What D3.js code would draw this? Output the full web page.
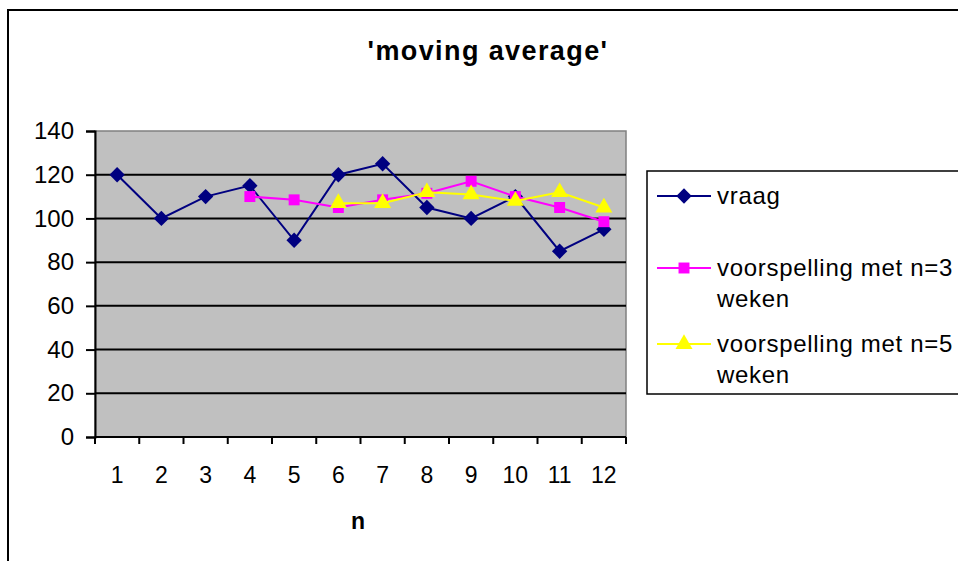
<!DOCTYPE html>
<html>
<head>
<meta charset="utf-8">
<script src="https://cdn.jsdelivr.net/npm/d3@7/dist/d3.min.js"></script>
<style>
  body { margin: 0; background: #fff; }
  svg { display: block; font-family: "Liberation Sans", Arial, sans-serif; }
</style>
</head>
<body>
<svg id="chart" width="958" height="561"></svg>
<script>
// categories (weeks)
const weeks = ["1", "2", "3", "4", "5", "6", "7", "8", "9", "10", "11", "12"];
// demand
const vraag = [120, 100, 110, 115, 90, 120, 125, 105, 100, 110, 85, 95];
// forecasts (null = no value yet)
const forecast3 = [null, null, null, 110, 108.5, 105, 108.5, 111.5, 117, 110, 105, 98.5];
const forecast5 = [null, null, null, null, null, 107, 107, 112, 111, 108, 112, 105];
const yTicks = [0, 20, 40, 60, 80, 100, 120, 140];
const seriesNames = ["vraag", "voorspelling met n=3 weken", "voorspelling met n=5 weken"];

const svg = d3.select("#chart");

// outer chart border (cut off at right and bottom)
svg.append("rect")
    .attr("x", 8).attr("y", 10)
    .attr("width", 1000).attr("height", 600)
    .attr("fill", "#fff")
    .attr("stroke", "#000")
    .attr("stroke-width", 2);

// title
svg.append("text")
    .attr("x", 488).attr("y", 60)
    .attr("text-anchor", "middle")
    .attr("font-size", 27)
    .attr("font-weight", "bold")
    .attr("letter-spacing", 1.4)
    .text("'moving average'");

// plot area
const plot = { left: 95, top: 131, right: 626, bottom: 437 };

const x = d3.scaleBand()
    .domain(weeks)
    .range([plot.left, plot.right]);

const y = d3.scaleLinear()
    .domain([0, 140])
    .range([plot.bottom, plot.top]);

svg.append("rect")
    .attr("x", plot.left).attr("y", plot.top)
    .attr("width", plot.right - plot.left)
    .attr("height", plot.bottom - plot.top)
    .attr("fill", "#c0c0c0")
    .attr("stroke", "#808080")
    .attr("stroke-width", 1.5);

// gridlines
svg.append("g")
    .selectAll("line")
    .data(yTicks.filter(d => d > 0 && d < 140))
    .enter().append("line")
    .attr("x1", plot.left).attr("x2", plot.right)
    .attr("y1", d => y(d)).attr("y2", d => y(d))
    .attr("stroke", "#000")
    .attr("stroke-width", 2);

// y axis
const yAxis = svg.append("g")
    .attr("transform", "translate(" + plot.left + ",0)")
    .call(d3.axisLeft(y).tickValues(yTicks).tickSize(9).tickPadding(12));
yAxis.selectAll("text").attr("font-size", 24).attr("fill", "#000")
    .attr("font-family", "Liberation Sans, Arial, sans-serif");
yAxis.selectAll("line, path").attr("stroke", "#000").attr("stroke-width", 2);

// x axis: ticks between categories
const tickPos = weeks.map(w => x(w)).concat([plot.right]);
const xAxis = svg.append("g");
xAxis.append("line")
    .attr("x1", plot.left).attr("x2", plot.right)
    .attr("y1", plot.bottom).attr("y2", plot.bottom)
    .attr("stroke", "#000").attr("stroke-width", 2);
xAxis.selectAll(".tick")
    .data(tickPos)
    .enter().append("line")
    .attr("x1", d => d).attr("x2", d => d)
    .attr("y1", plot.bottom).attr("y2", plot.bottom + 7)
    .attr("stroke", "#000").attr("stroke-width", 2);
xAxis.selectAll("text")
    .data(weeks)
    .enter().append("text")
    .attr("x", d => x(d) + x.bandwidth() / 2)
    .attr("y", 483)
    .attr("text-anchor", "middle")
    .attr("font-size", 23)
    .text(d => d);

// x axis title
svg.append("text")
    .attr("x", 358).attr("y", 529)
    .attr("text-anchor", "middle")
    .attr("font-size", 23)
    .attr("font-weight", "bold")
    .text("n");

const cx = i => x(weeks[i]) + x.bandwidth() / 2;

const line = d3.line()
    .defined(d => d != null)
    .x((d, i) => cx(i))
    .y(d => y(d));

const series = [
    { name: seriesNames[0], values: vraag, color: "#000080", shape: d3.symbolDiamond2, size: 150 },
    { name: seriesNames[1], values: forecast3, color: "#ff00ff", shape: d3.symbolSquare, size: 120 },
    { name: seriesNames[2], values: forecast5, color: "#ffff00", shape: d3.symbolTriangle, size: 125 }
];

series.forEach((s) => {
    const g = svg.append("g");
    g.append("path")
        .attr("d", line(s.values))
        .attr("fill", "none")
        .attr("stroke", s.color)
        .attr("stroke-width", 2);
    g.selectAll("path.m")
        .data(s.values.map((v, i) => ({ v, i })).filter(d => d.v != null))
        .enter().append("path")
        .attr("class", "m")
        .attr("transform", d => "translate(" + cx(d.i) + "," + y(d.v) + ")")
        .attr("d", d3.symbol().type(s.shape).size(s.size))
        .attr("fill", s.color);
});

// legend
const legend = svg.append("g");
legend.append("rect")
    .attr("x", 647).attr("y", 171)
    .attr("width", 330).attr("height", 223)
    .attr("fill", "#fff")
    .attr("stroke", "#000")
    .attr("stroke-width", 1.5);

const legendRows = [
    { y: 196, lines: ["vraag"] },
    { y: 268, lines: ["voorspelling met n=3", "weken"] },
    { y: 344, lines: ["voorspelling met n=5", "weken"] }
];

legendRows.forEach((r, i) => {
    const s = series[i];
    legend.append("line")
        .attr("x1", 657).attr("x2", 711)
        .attr("y1", r.y).attr("y2", r.y)
        .attr("stroke", s.color).attr("stroke-width", 2);
    legend.append("path")
        .attr("transform", "translate(684," + r.y + ")")
        .attr("d", d3.symbol().type(s.shape).size(s.size))
        .attr("fill", s.color);
    const t = legend.append("text")
        .attr("x", 717)
        .attr("y", r.y + 8)
        .attr("font-size", 24)
        .attr("letter-spacing", 0.7);
    r.lines.forEach((l, j) => {
        t.append("tspan").attr("x", 717).attr("dy", j === 0 ? 0 : 31).text(l);
    });
});
</script>
</body>
</html>
